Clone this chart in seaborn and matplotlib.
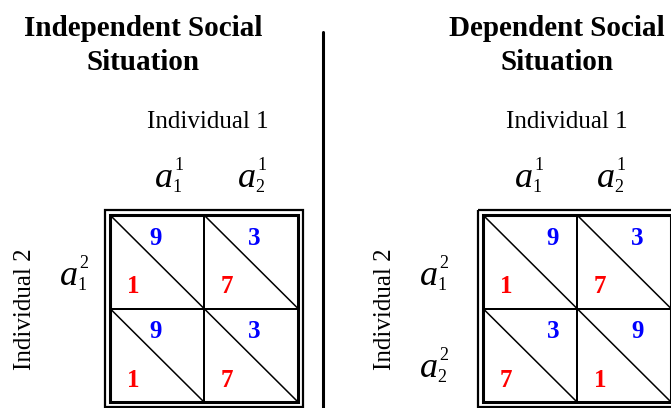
import numpy as np
import matplotlib
matplotlib.use("Agg")
import matplotlib.pyplot as plt
from matplotlib.colors import ListedColormap
from matplotlib.patches import Rectangle
import seaborn as sns

# payoff values, upper triangle (blue) and lower triangle (red) of each cell
indep_upper = [[9, 3], [9, 3]]
indep_lower = [[1, 7], [1, 7]]
dep_upper = [[9, 3], [3, 9]]
dep_lower = [[1, 7], [7, 1]]

title_lines = [["Independent Social", "Situation"], ["Dependent Social", "Situation"]]
# action labels a_sub^sup
col_sub = ["1", "2"]
col_sup = ["1", "1"]
row_sub = ["1", "2"]
row_sup = ["2", "2"]
player_top = "Individual 1"
player_side = "Individual 2"

W, H = 671, 408


def px(x, y):
    return x / W, 1 - y / H


def action_label(fig, left, base, sub, sup):
    fig.text(*px(left, base), "a", style="italic", fontsize=26, va="baseline", ha="left")
    fig.text(*px(left + 19, base - 17), sup, fontsize=13, va="baseline", ha="left")
    fig.text(*px(left + 17.5, base + 5), sub, fontsize=13, va="baseline", ha="left")


def draw_matrix(fig, left, upper, lower, upper_dx):
    # inner box is 188 x 187 px, top at y=215
    ax = fig.add_axes([left / W, (H - 402) / H, 188 / W, 187 / H])
    sns.heatmap(
        np.zeros((2, 2)),
        ax=ax,
        cmap=ListedColormap(["white"]),
        cbar=False,
        linewidths=1.3,
        linecolor="black",
        xticklabels=False,
        yticklabels=False,
    )
    m = 5 / 94
    ax.add_patch(Rectangle((0, 0), 2, 2, fill=False, lw=2.2, ec="black", clip_on=False))
    ax.add_patch(
        Rectangle((-m, -m), 2 + 2 * m, 2 + 2 * m, fill=False, lw=1.6, ec="black", clip_on=False)
    )
    for i in range(2):
        for j in range(2):
            ax.plot([j, j + 1], [i, i + 1], color="black", lw=1.1, clip_on=False)
            ax.text(j + upper_dx[j], i + 0.25, str(upper[i][j]), color="blue",
                    fontsize=18, fontweight="bold", ha="center", va="center")
            ax.text(j + 0.245, i + 0.765, str(lower[i][j]), color="red",
                    fontsize=18, fontweight="bold", ha="center", va="center")
    return ax


def main():
    sns.set_theme(style="white")
    plt.rcParams["font.family"] = ["Liberation Serif", "DejaVu Serif"]
    plt.rcParams["text.color"] = "black"

    fig = plt.figure(figsize=(W / 100, H / 100), dpi=100)

    draw_matrix(fig, 110, indep_upper, indep_lower, [0.48, 0.53])
    draw_matrix(fig, 483, dep_upper, dep_lower, [0.745, 0.64])

    # titles
    for cx, lines in zip([143, 557], title_lines):
        fig.text(*px(cx, 36), lines[0], ha="center", va="baseline", fontsize=21, fontweight="bold")
        fig.text(*px(cx, 70), lines[1], ha="center", va="baseline", fontsize=21, fontweight="bold")

    # player labels
    fig.text(*px(208, 128), player_top, ha="center", va="baseline", fontsize=18)
    fig.text(*px(567, 128), player_top, ha="center", va="baseline", fontsize=18)
    fig.text(*px(25, 309), player_side, ha="center", va="center", fontsize=18, rotation=90)
    fig.text(*px(385, 309), player_side, ha="center", va="center", fontsize=18, rotation=90)

    # action labels
    for left, j in zip([155, 238, 515, 597], [0, 1, 0, 1]):
        action_label(fig, left, 187, col_sub[j], col_sup[j])
    action_label(fig, 60, 285, row_sub[0], row_sup[0])
    action_label(fig, 420, 285, row_sub[0], row_sup[0])
    action_label(fig, 420, 377, row_sub[1], row_sup[1])

    # divider
    line = plt.Line2D([323 / W, 323 / W], [0, 1 - 32 / H], color="black", lw=2.2,
                      transform=fig.transFigure)
    fig.add_artist(line)

    fig.savefig("out.png", dpi=100)


if __name__ == "__main__":
    main()
